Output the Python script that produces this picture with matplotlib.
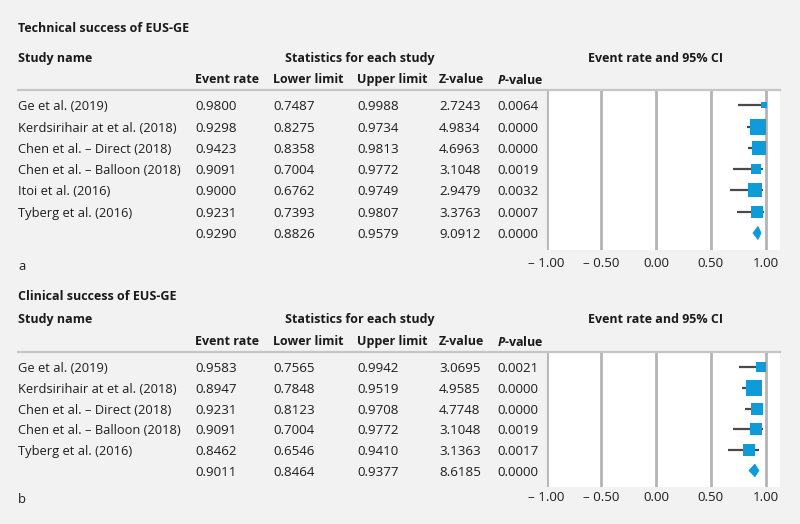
import matplotlib
matplotlib.use('Agg')
import matplotlib.pyplot as plt
from matplotlib.lines import Line2D
from matplotlib.patches import Polygon
from matplotlib.transforms import blended_transform_factory
import numpy as np

plt.rcParams['font.family'] = ['Open Sans', 'DejaVu Sans']
plt.rcParams['mathtext.fontset'] = 'custom'
plt.rcParams['mathtext.bfit'] = 'Open Sans:italic:bold'

# ---------------- data ----------------
studies_a = ["Ge et al. (2019)", "Kerdsirihair at et al. (2018)", "Chen et al. – Direct (2018)",
             "Chen et al. – Balloon (2018)", "Itoi et al. (2016)", "Tyberg et al. (2016)"]
event_a = [0.9800, 0.9298, 0.9423, 0.9091, 0.9000, 0.9231]
lower_a = [0.7487, 0.8275, 0.8358, 0.7004, 0.6762, 0.7393]
upper_a = [0.9988, 0.9734, 0.9813, 0.9772, 0.9749, 0.9807]
z_a = [2.7243, 4.9834, 4.6963, 3.1048, 2.9479, 3.3763]
p_a = [0.0064, 0.0000, 0.0000, 0.0019, 0.0032, 0.0007]
weights_a = [5.2, 27.4, 21.0, 12.9, 18.1, 15.4]
summary_a = [0.9290, 0.8826, 0.9579, 9.0912, 0.0000]

studies_b = ["Ge et al. (2019)", "Kerdsirihair at et al. (2018)", "Chen et al. – Direct (2018)",
             "Chen et al. – Balloon (2018)", "Tyberg et al. (2016)"]
event_b = [0.9583, 0.8947, 0.9231, 0.9091, 0.8462]
lower_b = [0.7565, 0.7848, 0.8123, 0.7004, 0.6546]
upper_b = [0.9942, 0.9519, 0.9708, 0.9772, 0.9410]
z_b = [3.0695, 4.9585, 4.7748, 3.1048, 3.1363]
p_b = [0.0021, 0.0000, 0.0000, 0.0019, 0.0017]
weights_b = [10.6, 31.3, 22.0, 15.8, 20.3]
summary_b = [0.9011, 0.8464, 0.9377, 8.6185, 0.0000]

ticks = [-1.0, -0.5, 0.0, 0.5, 1.0]
tick_labels = ["– 1.00", "– 0.50", "0.00", "0.50", "1.00"]

# ---------------- layout ----------------
W, H = 800, 524
fig = plt.figure(figsize=(8, 5.24), dpi=100)
fig.patch.set_facecolor('#f2f2f2')

BLUE = '#0f9bd7'
GRID = '#b4b4b4'
FS = 9.3      # study names
FSN = 9.6     # numbers
FSB = 9.0     # bold headers
TXT = '#1e1e1e'
VA = 'center_baseline'

def fx(px):
    return px / W

def fy(py):
    return 1 - py / H

col_x = [18, 195, 273, 357, 439, 497]


def panel(title, studies, ev, lo, up, z, p, w, summ, top, bottom, title_y, header_y,
          colhead_y, letter, letter_y, max_side, ytick_pad):
    nrows = len(studies) + 1
    ax = fig.add_axes([fx(546.5), fy(bottom), fx(780 - 546.5), (bottom - top) / H])
    ax.set_facecolor('white')
    ax.set_xlim(-1.0, 1.13)
    ax.set_ylim(nrows - 0.2, -0.75)
    for s in ax.spines.values():
        s.set_visible(False)
    ax.set_yticks([])
    ax.set_xticks(ticks)
    ax.set_xticklabels(tick_labels, fontsize=FSN, color=TXT)
    ax.tick_params(axis='x', length=0, pad=ytick_pad)
    for t in ticks:
        ax.axvline(t, color=GRID, lw=2.0, zorder=1)

    wmax = max(w)
    for i in range(len(studies)):
        ax.plot([lo[i], up[i]], [i, i], color='#4a4a4a', lw=1.6, zorder=2,
                solid_capstyle='butt')
        side_pt = max_side * np.sqrt(w[i] / wmax) * 72 / 100
        ax.plot([ev[i]], [i], marker='s', ms=side_pt, color=BLUE, mec=BLUE, mew=0,
                zorder=3, linestyle='none')
    si = len(studies)
    hh = 0.31
    diamond = Polygon([[summ[1], si], [summ[0], si - hh], [summ[2], si], [summ[0], si + hh]],
                      closed=True, facecolor=BLUE, edgecolor=BLUE, lw=0.5, zorder=3)
    ax.add_patch(diamond)

    # header line
    fig.add_artist(Line2D([fx(18), fx(780)], [fy(top), fy(top)], color='#c6c6c6', lw=1.6))

    # texts
    fig.text(fx(18), fy(title_y), title, fontsize=FSB, fontweight='bold',
             va=VA, ha='left', color='#1a1a1a')
    fig.text(fx(18), fy(header_y), "Study name", fontsize=FSB, fontweight='bold',
             va=VA, ha='left', color='#1a1a1a')
    fig.text(fx(360), fy(header_y), "Statistics for each study", fontsize=FSB,
             fontweight='bold', va=VA, ha='center', color='#1a1a1a')
    fig.text(fx(656), fy(header_y), "Event rate and 95% CI", fontsize=FSB,
             fontweight='bold', va=VA, ha='center', color='#1a1a1a')
    heads = ["Event rate", "Lower limit", "Upper limit", "Z-value"]
    for hx, h in zip(col_x[1:5], heads):
        fig.text(fx(hx), fy(colhead_y), h, fontsize=FSB, fontweight='bold',
                 va=VA, ha='left', color='#1a1a1a')
    fig.text(fx(col_x[5]), fy(colhead_y), r"$\mathbfit{P}$" + "-value", fontsize=FSB,
             fontweight='bold', va=VA, ha='left', color='#1a1a1a')

    tr = blended_transform_factory(fig.transFigure, ax.transData)
    for i in range(nrows):
        if i < len(studies):
            vals = [ev[i], lo[i], up[i], z[i], p[i]]
            fig.text(fx(col_x[0]), i, studies[i], transform=tr, fontsize=FS,
                     va=VA, ha='left', color=TXT)
        else:
            vals = summ
        for cx, v in zip(col_x[1:], vals):
            fig.text(fx(cx), i, f"{v:.4f}", transform=tr, fontsize=FSN, va=VA,
                     ha='left', color=TXT)
    fig.text(fx(18), fy(letter_y), letter, fontsize=FS, va=VA, ha='left',
             color=TXT)
    return ax


panel("Technical success of EUS-GE", studies_a, event_a, lower_a, upper_a, z_a, p_a,
      weights_a, summary_a, top=89.5, bottom=250, title_y=27, header_y=57, colhead_y=78,
      letter="a", letter_y=265, max_side=16, ytick_pad=5)
panel("Clinical success of EUS-GE", studies_b, event_b, lower_b, upper_b, z_b, p_b,
      weights_b, summary_b, top=352, bottom=487, title_y=295, header_y=318, colhead_y=340,
      letter="b", letter_y=498, max_side=15.5, ytick_pad=3)

fig.savefig('out.png', dpi=100, facecolor=fig.get_facecolor())
